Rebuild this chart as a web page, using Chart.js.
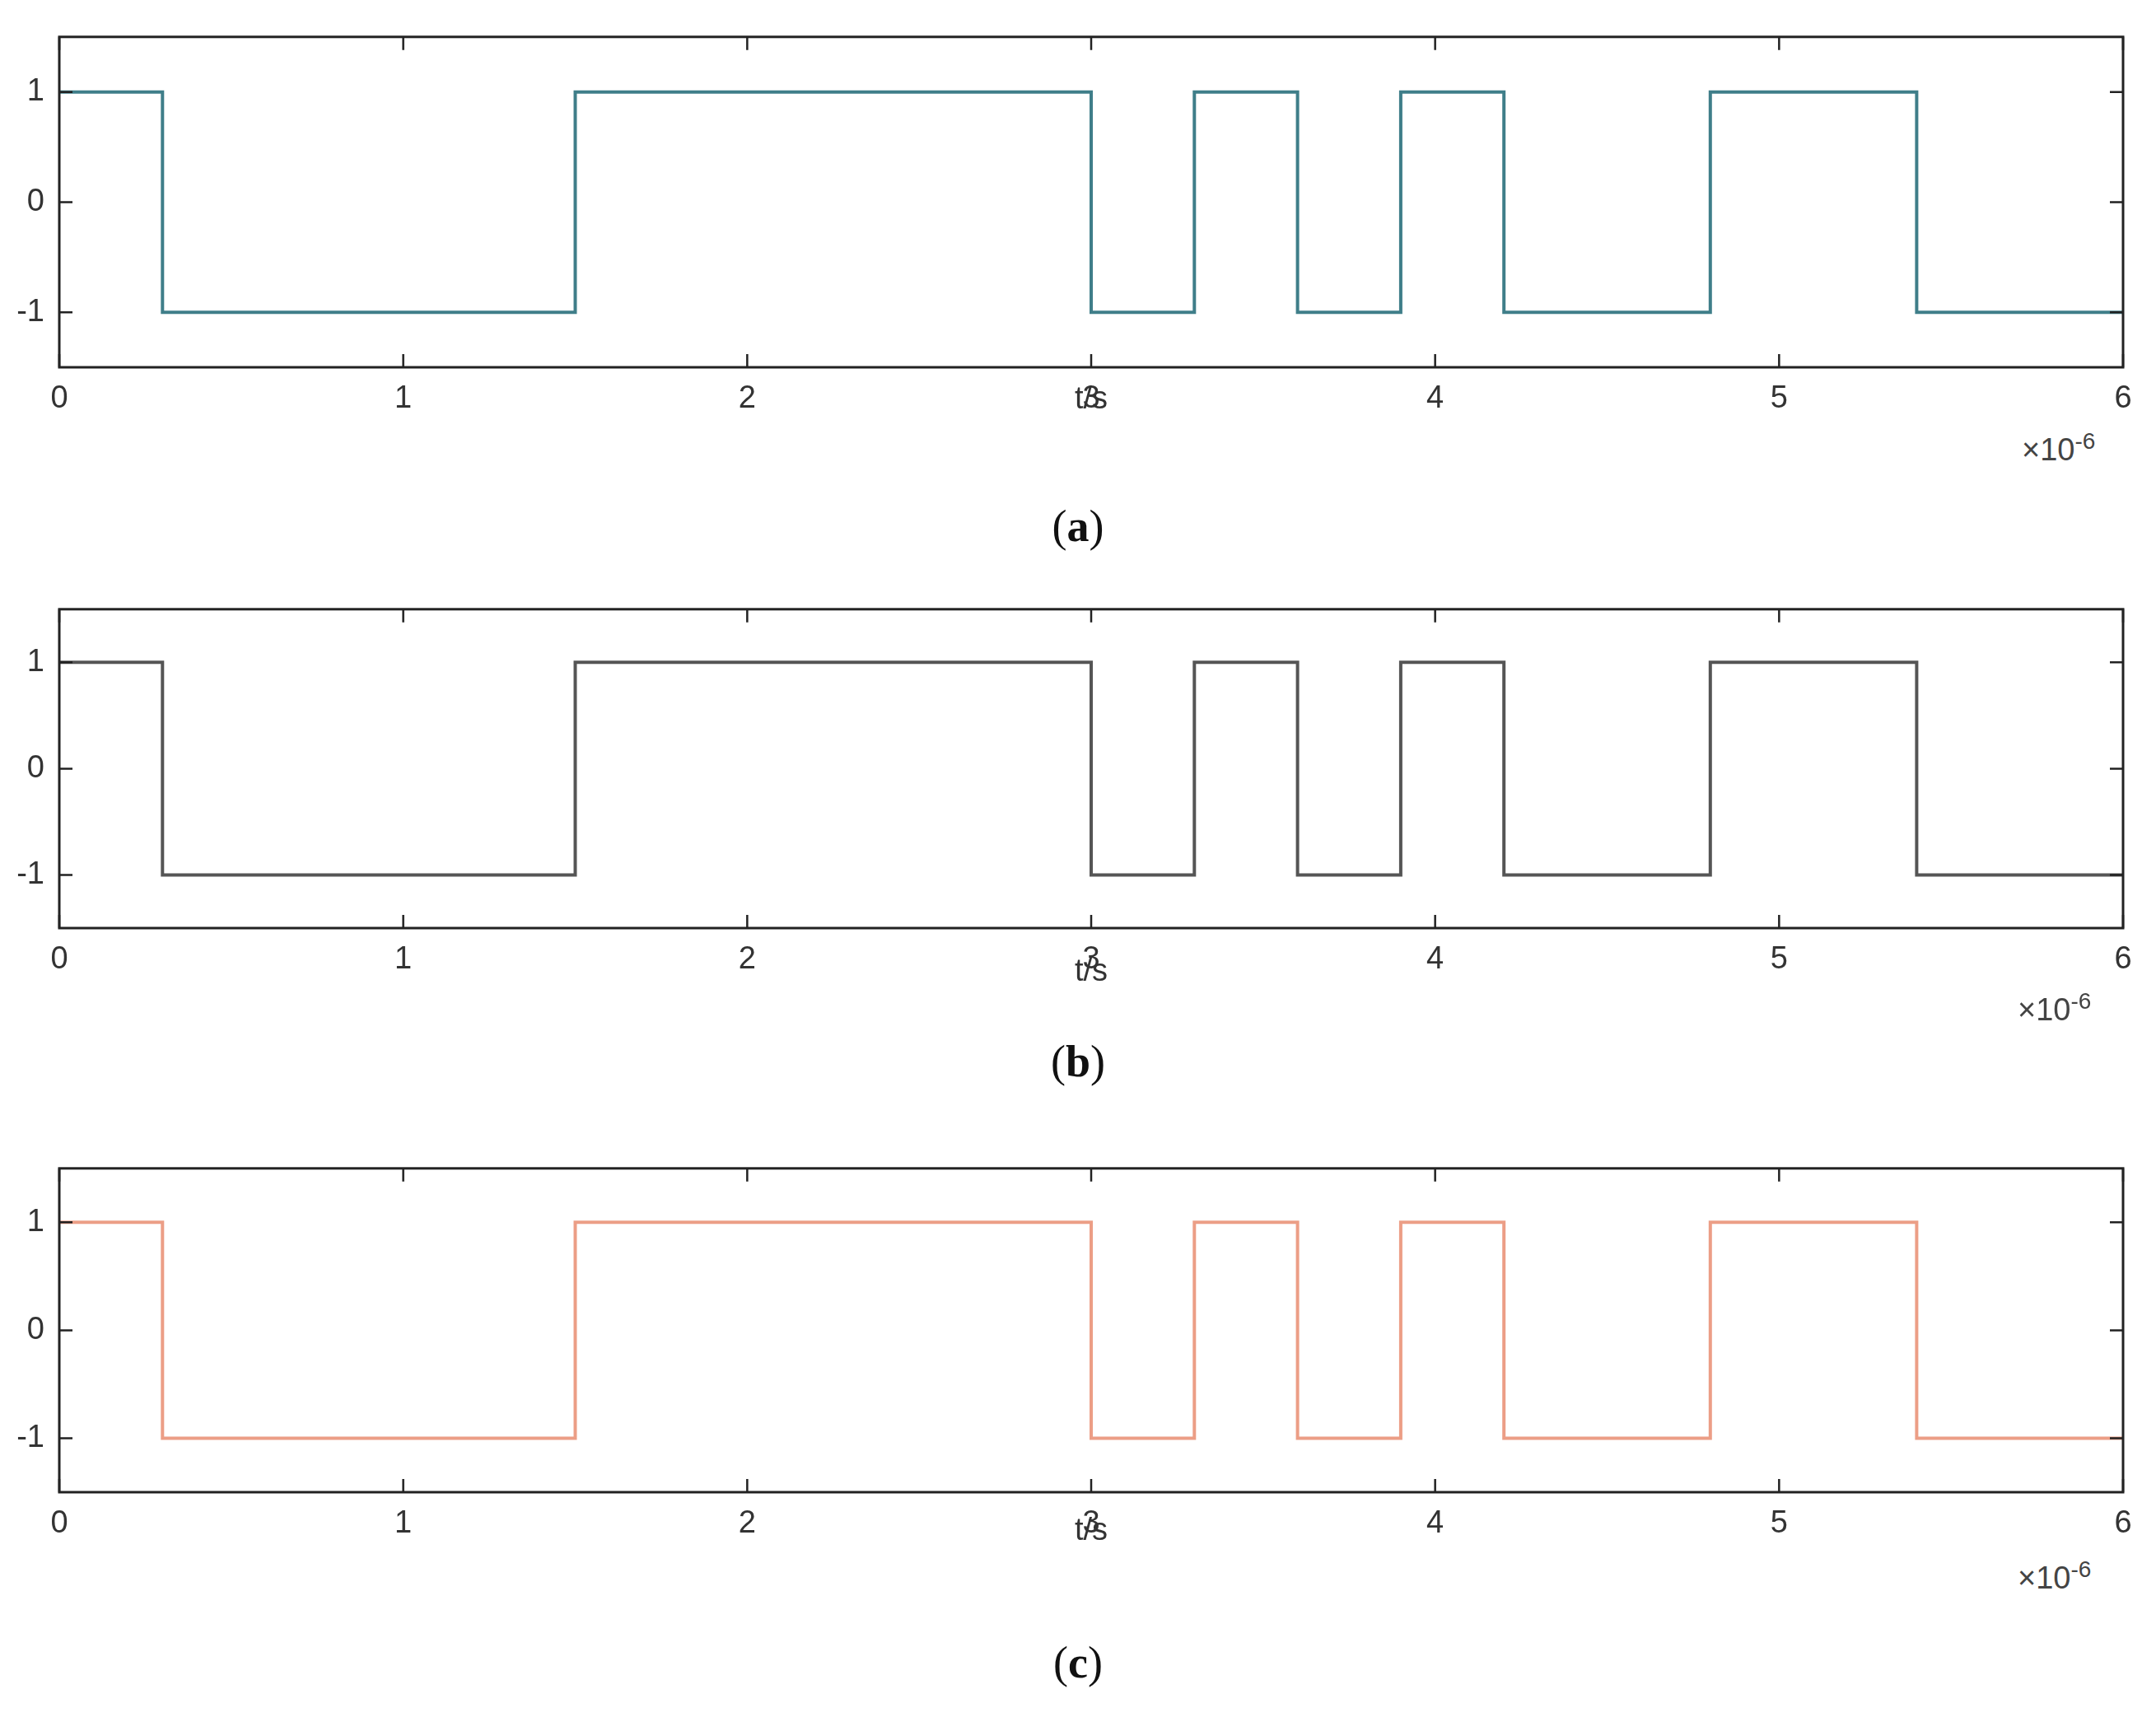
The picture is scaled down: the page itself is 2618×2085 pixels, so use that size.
<!DOCTYPE html>
<html>
<head>
<meta charset="utf-8">
<script src="https://cdn.jsdelivr.net/npm/chart.js@4.4.1/dist/chart.umd.min.js"></script>
<style>
  body { margin: 0; background: #fff; width: 2618px; height: 2085px; position: relative; overflow: hidden; }
  .panel { position: absolute; left: 0; width: 2618px; height: 500px; }
  .cap { position: absolute; width: 2618px; text-align: center; font: 54px "Liberation Serif", serif; color: #111; }
  .cap b { font-weight: bold; }
  .exp { position: absolute; font: 38px "Liberation Sans", Arial, sans-serif; color: #444; }
  .exp sup { font-size: 28px; }
</style>
</head>
<body>
<div class="panel" style="top:12px"><canvas id="ca"></canvas></div>
<div class="panel" style="top:707px"><canvas id="cb"></canvas></div>
<div class="panel" style="top:1386px"><canvas id="cc"></canvas></div>
<div class="exp" style="left:2455px;top:520px">&times;10<sup>-6</sup></div>
<div class="exp" style="left:2450px;top:1200px">&times;10<sup>-6</sup></div>
<div class="exp" style="left:2450px;top:1890px">&times;10<sup>-6</sup></div>
<div class="cap" style="top:608px">(<b>a</b>)</div>
<div class="cap" style="top:1258px">(<b>b</b>)</div>
<div class="cap" style="top:1988px">(<b>c</b>)</div>
<script>
// switching instants (x10^-6 s) and the level held from each instant on
const times = [0, 0.3, 1.5, 3.0, 3.3, 3.6, 3.9, 4.2, 4.8, 5.4, 6.0];
const levels = [1, -1, 1, -1, 1, -1, 1, -1, 1, -1, -1];
const xTicks = [0, 1, 2, 3, 4, 5, 6];
const yTicks = [-1, 0, 1];
const panelColors = ['#3f7e89', '#555555', '#ec9e86'];
const panelHeights = [404, 390, 396];

const frame = {
  id: 'frame',
  afterDraw(chart) {
    const { ctx, chartArea: a, scales } = chart;
    ctx.save();
    ctx.strokeStyle = '#222';
    ctx.lineWidth = 3;
    ctx.strokeRect(a.left, a.top, a.right - a.left, a.bottom - a.top);
    ctx.lineWidth = 2.5;
    const L = 16;
    xTicks.forEach(v => {
      const x = scales.x.getPixelForValue(v);
      ctx.beginPath();
      ctx.moveTo(x, a.bottom); ctx.lineTo(x, a.bottom - L);
      ctx.moveTo(x, a.top); ctx.lineTo(x, a.top + L);
      ctx.stroke();
    });
    yTicks.forEach(v => {
      const y = scales.y.getPixelForValue(v);
      ctx.beginPath();
      ctx.moveTo(a.left, y); ctx.lineTo(a.left + L, y);
      ctx.moveTo(a.right, y); ctx.lineTo(a.right - L, y);
      ctx.stroke();
    });
    ctx.restore();
  }
};

function makePanel(id, color, plotH) {
  const pts = times.map((t, i) => ({ x: t, y: levels[i] }));
  new Chart(document.getElementById(id), {
    type: 'line',
    data: { datasets: [{ data: pts, borderColor: color, borderWidth: 4, stepped: 'before', pointRadius: 0, fill: false }] },
    options: {
      responsive: false, animation: false,
      layout: { padding: { top: 30, right: 40, left: 0, bottom: 0 } },
      plugins: { legend: { display: false }, tooltip: { enabled: false } },
      scales: {
        x: {
          type: 'linear', min: 0, max: 6,
          afterBuildTicks: s => { s.ticks = xTicks.map(v => ({ value: v })); },
          afterFit: s => { s.height = 500 - 30 - plotH; },
          grid: { display: false }, border: { display: false },
          ticks: { color: '#333', font: { size: 38, family: 'Liberation Sans' }, padding: 8, maxRotation: 0 },
          title: { display: true, text: 't/s', color: '#333', font: { size: 38, family: 'Liberation Sans' }, padding: { top: 6 } }
        },
        y: {
          min: -1.5, max: 1.5,
          afterBuildTicks: s => { s.ticks = yTicks.map(v => ({ value: v })); },
          afterFit: s => { s.width = 72; },
          grid: { display: false }, border: { display: false },
          ticks: { color: '#333', font: { size: 38, family: 'Liberation Sans' }, padding: 10 }
        }
      }
    },
    plugins: [frame]
  });
}

['ca', 'cb', 'cc'].forEach((id, i) => {
  const c = document.getElementById(id);
  c.width = 2618; c.height = 500;
  makePanel(id, panelColors[i], panelHeights[i]);
});
</script>
</body>
</html>
